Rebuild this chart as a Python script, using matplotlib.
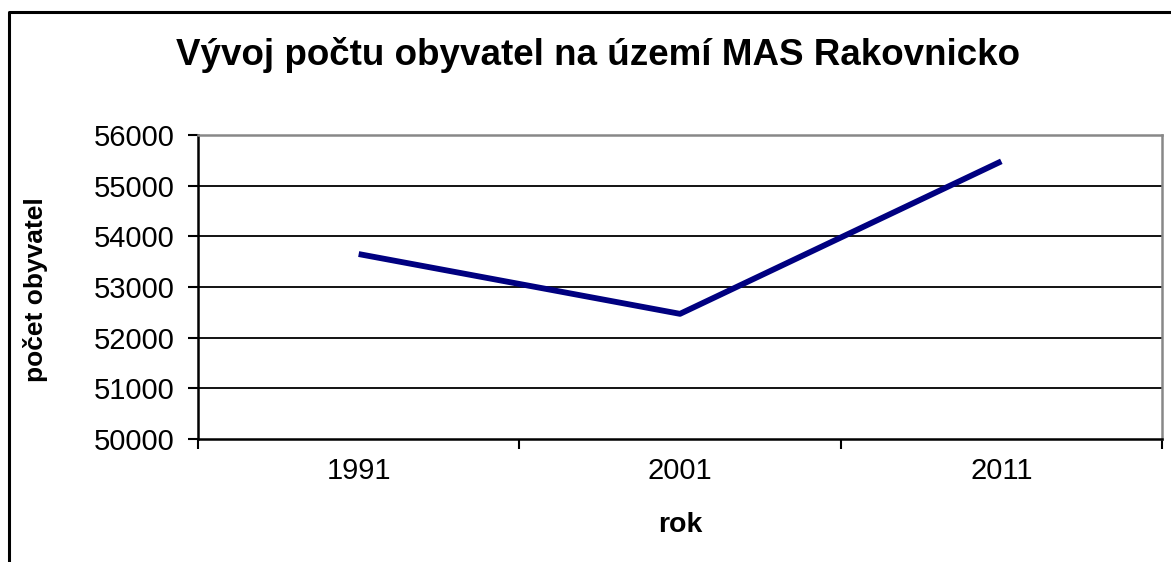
import matplotlib.pyplot as plt
from matplotlib.lines import Line2D

years = ["1991", "2001", "2011"]
population = [53650, 52470, 55480]
y_ticks = [50000, 51000, 52000, 53000, 54000, 55000, 56000]

plt.rcParams['font.family'] = ['Liberation Sans', 'DejaVu Sans']

fig = plt.figure(figsize=(11.71, 5.62), dpi=100)
ax = fig.add_axes([0.1691, 0.2189, 0.8232, 0.5409])

x = list(range(len(years)))
ax.plot(x, population, color='#000080', lw=4.2, solid_capstyle='butt', zorder=3)

ax.set_xlim(-0.5, len(years) - 0.5)
ax.set_ylim(y_ticks[0], y_ticks[-1])
ax.set_yticks(y_ticks)
ax.set_yticklabels([str(v) for v in y_ticks])
for v in y_ticks[1:-1]:
    ax.axhline(v, color='black', lw=1.3, zorder=1)

# category labels at centres, tick marks at category borders
ax.set_xticks(x)
ax.set_xticklabels(years)
ax.set_xticks([i - 0.5 for i in range(len(years) + 1)], minor=True)
ax.tick_params(axis='x', which='major', length=0, pad=13, labelsize=21)
ax.tick_params(axis='x', which='minor', length=7, width=1.5, direction='out')
ax.tick_params(axis='y', length=7, width=1.5, direction='out', pad=10, labelsize=21)

for s in ['left', 'bottom']:
    ax.spines[s].set_linewidth(1.8)
    ax.spines[s].set_color('black')
for s in ['top', 'right']:
    ax.spines[s].set_linewidth(1.8)
    ax.spines[s].set_color('#888888')

fig.text(0.511, 0.902, "Vývoj počtu obyvatel na území MAS Rakovnicko",
         ha='center', va='center', fontsize=26.5, fontweight='bold')
fig.text(0.030, 0.484, "počet obyvatel", rotation=90, ha='center', va='center',
         fontsize=19, fontweight='bold')
fig.text(0.581, 0.066, "rok", ha='center', va='center', fontsize=20.5, fontweight='bold')

# outer chart frame (left and top edges visible)
fig.add_artist(Line2D([0.0075, 0.0075, 1.0], [0.0, 0.979, 0.979],
                      transform=fig.transFigure, color='black', lw=2.2))

fig.savefig("out.png", dpi=100)
